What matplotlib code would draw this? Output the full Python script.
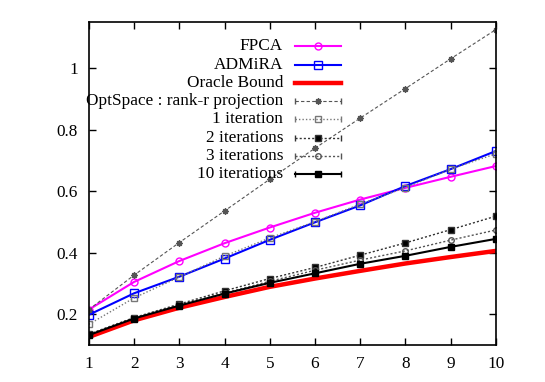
import matplotlib
matplotlib.use('Agg')
import matplotlib.pyplot as plt

plt.rcParams['font.family'] = ['Liberation Serif', 'DejaVu Serif']
plt.rcParams['font.size'] = 12.4

ranks = [1, 2, 3, 4, 5, 6, 7, 8, 9, 10]

fpca = [0.215, 0.305, 0.373, 0.431, 0.482, 0.530, 0.573, 0.611, 0.647, 0.682]
admira = [0.198, 0.268, 0.322, 0.381, 0.442, 0.499, 0.554, 0.617, 0.672, 0.731]
oracle = [0.126, 0.180, 0.221, 0.256, 0.289, 0.316, 0.341, 0.365, 0.386, 0.406]
proj = [0.215, 0.327, 0.433, 0.536, 0.639, 0.740, 0.838, 0.934, 1.031, 1.126]
iter1 = [0.167, 0.253, 0.321, 0.389, 0.448, 0.501, 0.558, 0.612, 0.672, 0.722]
iter2 = [0.135, 0.189, 0.233, 0.276, 0.316, 0.352, 0.392, 0.432, 0.475, 0.519]
iter3 = [0.134, 0.188, 0.230, 0.269, 0.307, 0.343, 0.376, 0.406, 0.441, 0.474]
iter10 = [0.132, 0.186, 0.228, 0.267, 0.302, 0.333, 0.364, 0.390, 0.419, 0.445]

labels = ['FPCA', 'ADMiRA', 'Oracle Bound', 'OptSpace : rank-r projection',
          '1 iteration', '2 iterations', '3 iterations', '10 iterations']

# style per series: color, linestyle, linewidth, marker, markersize, marker fill
styles = [
    dict(color='#ff00ff', ls='-', lw=1.5, marker='o', ms=5, mfc='none'),
    dict(color='#0000ff', ls='-', lw=1.5, marker='s', ms=5.5, mfc='none'),
    dict(color='#ff0000', ls='-', lw=3.2, marker=None, ms=0, mfc='none'),
    dict(color='#555555', ls=(0, (3, 2)), lw=0.8, marker=(8, 2, 0), ms=4.5, mfc='none'),
    dict(color='#777777', ls=(0, (1, 1.5)), lw=1.0, marker='s', ms=4, mfc='none'),
    dict(color='#333333', ls=(0, (1.5, 1.5)), lw=1.0, marker='s', ms=4, mfc='black'),
    dict(color='#555555', ls=(0, (1.5, 1.5)), lw=1.0, marker='o', ms=4, mfc='none'),
    dict(color='black', ls='-', lw=1.5, marker='s', ms=4.5, mfc='black'),
]
series = [fpca, admira, oracle, proj, iter1, iter2, iter3, iter10]

fig = plt.figure(figsize=(5.45, 3.82), dpi=100)
ax = fig.add_axes([0.163, 0.097, 0.747, 0.845])

for vals, st in zip(series, styles):
    ax.plot(ranks, vals, color=st['color'], linestyle=st['ls'], linewidth=st['lw'],
            marker=st['marker'], markersize=st['ms'], markerfacecolor=st['mfc'],
            markeredgecolor=st['color'], markeredgewidth=1.0)

ax.set_xlim(1, 10)
ax.set_ylim(0.1, 1.15)
ax.set_xticks(ranks)
ax.set_yticks([0.2, 0.4, 0.6, 0.8, 1.0])
ax.set_yticklabels(['0.2', '0.4', '0.6', '0.8', '1'])
ax.tick_params(direction='in', top=True, right=True, length=5, width=1, pad=8)
for sp in ax.spines.values():
    sp.set_linewidth(1.2)

# gnuplot-style key: labels right aligned, sample to the right
key_y = [0.926, 0.868, 0.811, 0.755, 0.700, 0.642, 0.585, 0.529]
for lab, st, y in zip(labels, styles, key_y):
    ax.text(0.477, y, lab, transform=ax.transAxes, ha='right', va='center')
    ax.plot([0.506, 0.619], [y, y], transform=ax.transAxes, clip_on=False,
            color=st['color'], linestyle=st['ls'], linewidth=st['lw'])
    if st['marker']:
        ax.plot([0.563], [y], transform=ax.transAxes, clip_on=False,
                marker=st['marker'], markersize=st['ms'], markerfacecolor=st['mfc'],
                markeredgecolor=st['color'], markeredgewidth=1.0, linestyle='none')
    if lab not in ('FPCA', 'ADMiRA', 'Oracle Bound'):
        ax.plot([0.506, 0.619], [y, y], transform=ax.transAxes, clip_on=False,
                marker='|', markersize=5, color=st['color'], linestyle='none',
                markeredgewidth=1.0)

fig.savefig('out.png', dpi=100)
